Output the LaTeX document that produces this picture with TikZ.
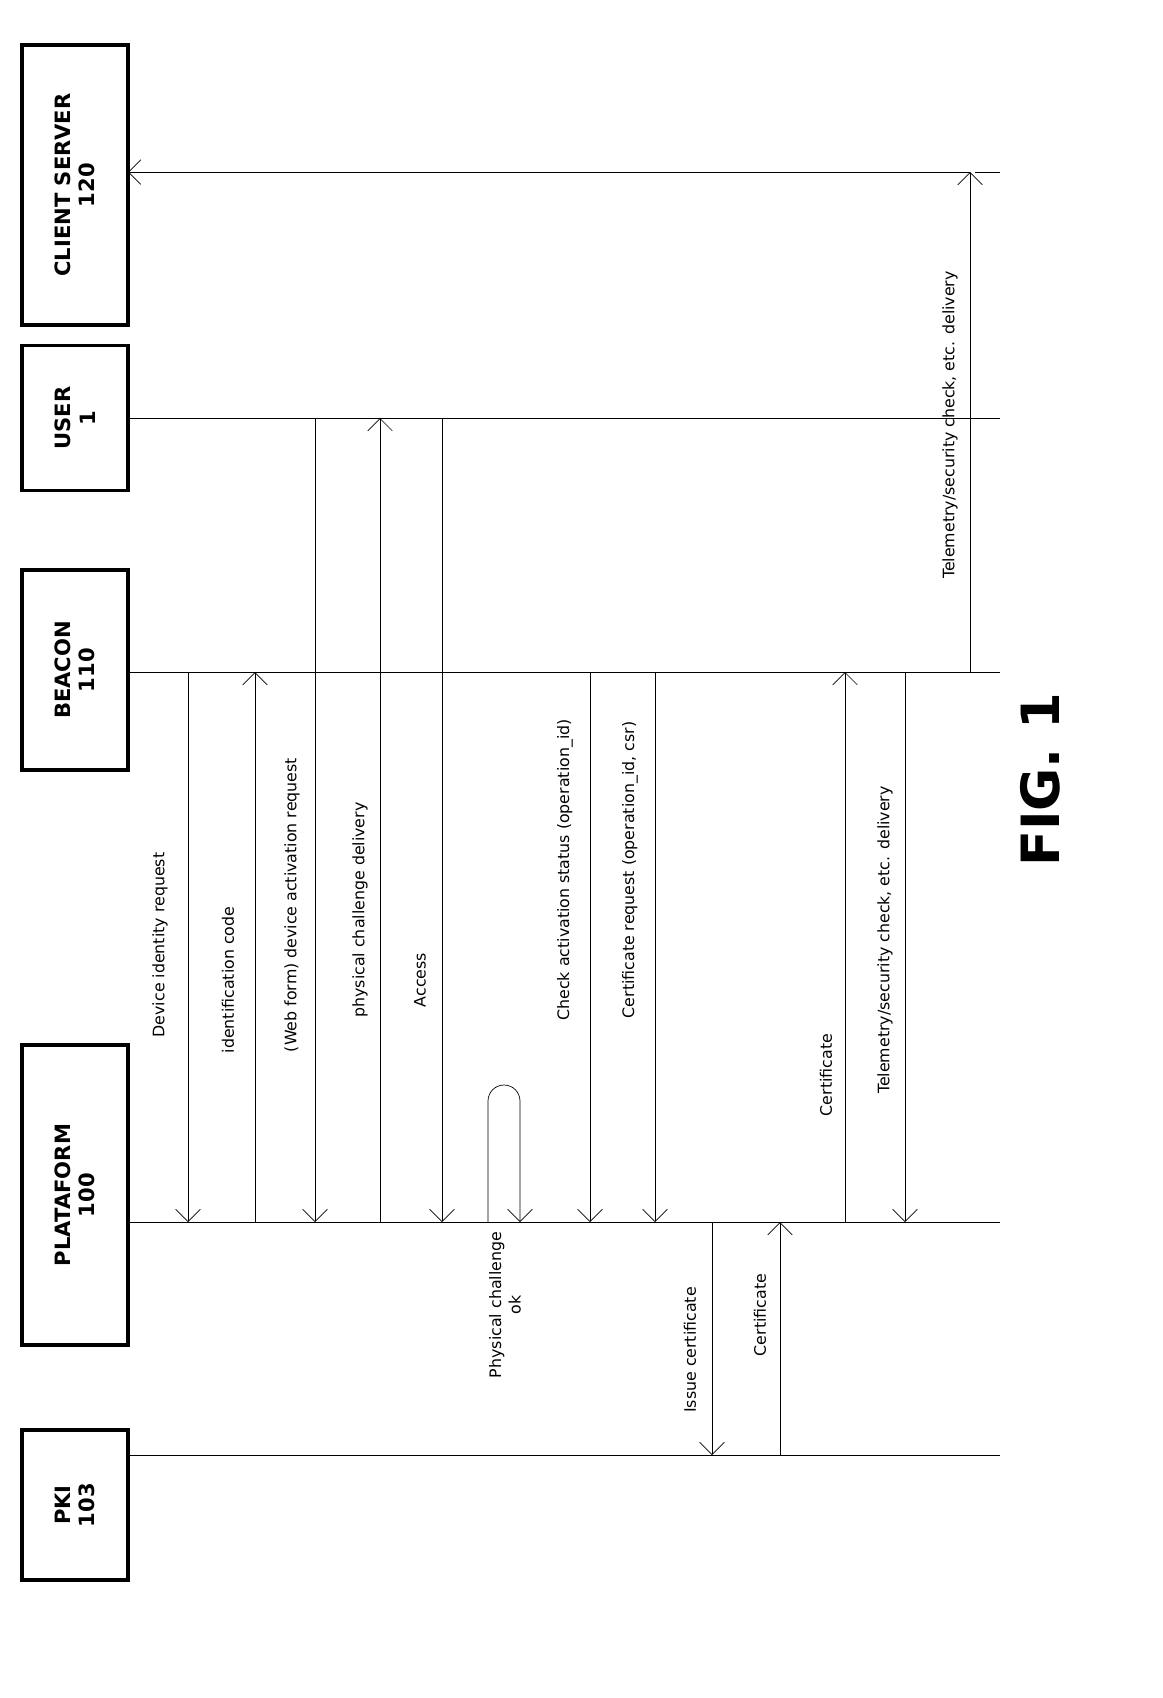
\documentclass[tikz,border=0pt]{standalone}
\usepackage{fontspec}
\setmainfont{DejaVu Sans}
\usetikzlibrary{arrows.meta}
\begin{document}
\begin{tikzpicture}[x=0.02cm,y=-0.02cm,
  box/.style={draw=black,line width=2.2pt,rotate=90,align=center,font=\bfseries\large,inner sep=0pt},
  life/.style={black,thin},
  msg/.style={black,thin,-{Straight Barb[length=7pt,width=14pt]}},
  lbl/.style={font=\small,rotate=90,anchor=center,align=center}]
\useasboundingbox (0,0) rectangle (1163,1698);
% participants
\node[box,minimum width=150*0.02cm,minimum height=106*0.02cm] (pki) at (75,1505) {PKI\\103};
\node[box,minimum width=300*0.02cm,minimum height=106*0.02cm] (plat) at (75,1195) {PLATAFORM\\100};
\node[box,minimum width=200*0.02cm,minimum height=106*0.02cm] (beac) at (75,670) {BEACON\\110};
\node[box,minimum width=145*0.02cm,minimum height=106*0.02cm] (user) at (75,418) {USER\\1};
\node[box,minimum width=280*0.02cm,minimum height=106*0.02cm] (cli) at (75,185) {CLIENT SERVER\\120};
% lifelines
\draw[life] (128,1455) -- (1000,1455);
\draw[life] (128,1222) -- (1000,1222);
\draw[life] (128,672) -- (1000,672);
\draw[life] (128,418) -- (1000,418);
\draw[life] (1000,172) -- (975,172);
% messages
\draw[msg] (188,672) -- (188,1222);
\node[lbl] at (160,945) {Device identity request};
\draw[msg] (255,1222) -- (255,672);
\node[lbl] at (228,980) {identification code};
\draw[msg] (315,418) -- (315,1222);
\node[lbl] at (292,905) {(Web form) device activation request};
\draw[msg] (380,1222) -- (380,418);
\node[lbl] at (360,910) {physical challenge delivery};
\draw[msg] (442,418) -- (442,1222);
\node[lbl] at (420,980) {Access};
\draw[msg] (488,1222) -- (488,1101) arc[start angle=180,end angle=360,radius=16] -- (520,1222);
\node[lbl] at (505,1305) {Physical challenge\\ok};
\draw[msg] (590,672) -- (590,1222);
\node[lbl] at (565,870) {Check activation status (operation\_id)};
\draw[msg] (655,672) -- (655,1222);
\node[lbl] at (630,870) {Certificate request (operation\_id, csr)};
\draw[msg] (712,1222) -- (712,1455);
\node[lbl] at (690,1350) {Issue certificate};
\draw[msg] (780,1455) -- (780,1222);
\node[lbl] at (760,1315) {Certificate};
\draw[msg] (845,1222) -- (845,672);
\node[lbl] at (826,1075) {Certificate};
\draw[msg] (905,672) -- (905,1222);
\node[lbl] at (885,940) {Telemetry/security check, etc. delivery};
\draw[msg] (970,672) -- (970,172);
\node[lbl] at (950,425) {Telemetry/security check, etc. delivery};
\draw[msg] (970,172) -- (128,172);
\node[rotate=90,font=\bfseries\fontsize{30}{34}\selectfont] at (1040,780) {FIG. 1};
\end{tikzpicture}
\end{document}
